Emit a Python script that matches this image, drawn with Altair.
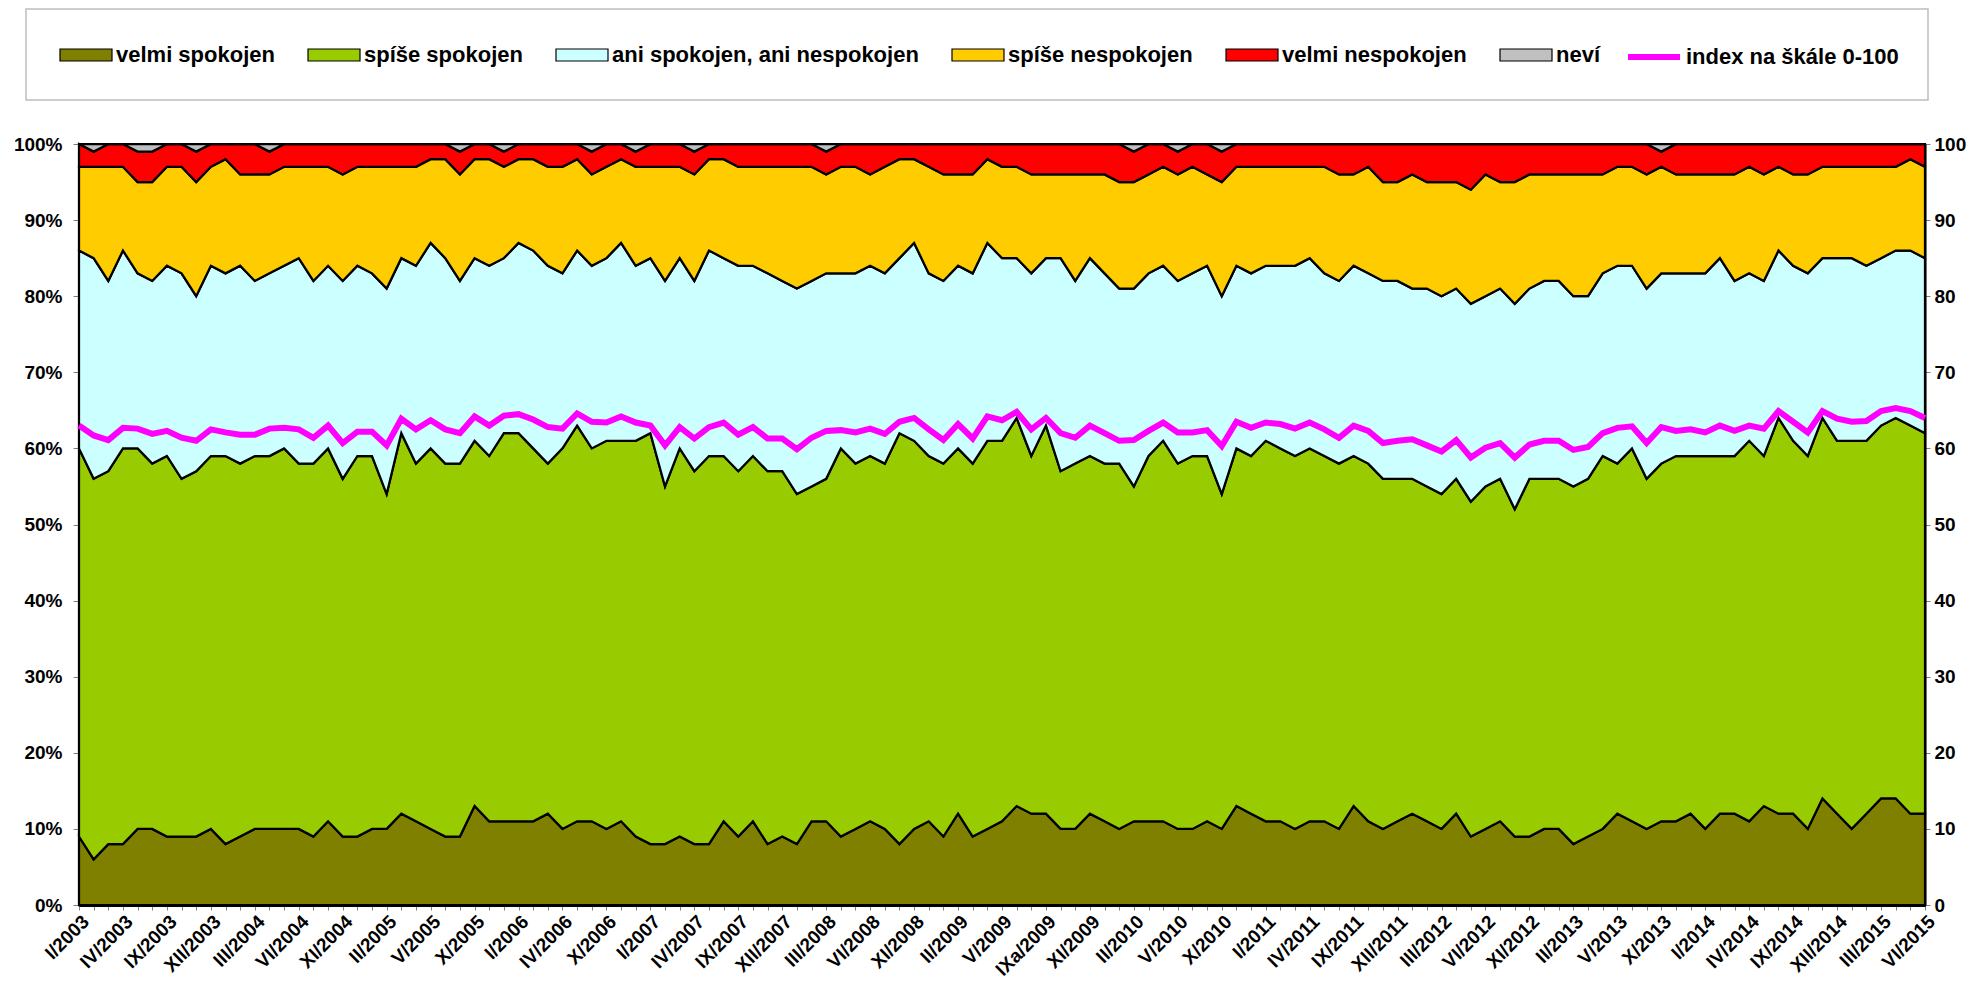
import altair as alt
import pandas as pd

MONTHS = ["I", "II", "III", "IV", "V", "VI", "IX", "X", "XI", "XII"]
periods = (
    [f"{m}/2003" for m in MONTHS] + [f"{m}/2004" for m in MONTHS] + [f"{m}/2005" for m in MONTHS]
    + ["I/2006", "II/2006", "III/2006", "IV/2006", "V/2006", "VI/2006", "X/2006", "XI/2006", "XII/2006"]
    + [f"{m}/2007" for m in MONTHS] + [f"{m}/2008" for m in MONTHS]
    + ["I/2009", "II/2009", "III/2009", "IV/2009", "V/2009", "VI/2009", "IX/2009", "IXa/2009",
       "X/2009", "Xa/2009", "XI/2009", "XII/2009"]
    + [f"{m}/2010" for m in MONTHS] + [f"{m}/2011" for m in MONTHS] + [f"{m}/2012" for m in MONTHS]
    + [f"{m}/2013" for m in MONTHS] + [f"{m}/2014" for m in MONTHS]
    + ["I/2015", "II/2015", "III/2015", "IV/2015", "V/2015", "VI/2015"]
)
labeled_periods = periods[::3]

velmi_spokojen = [
    9, 6, 8, 8, 10, 10, 9, 9, 9, 10, 8, 9, 10, 10, 10, 10, 9, 11, 9, 9, 10, 10, 12, 11, 10, 9, 9, 13, 11, 11, 11, 11,
    12, 10, 11, 11, 10, 11, 9, 8, 8, 9, 8, 8, 11, 9, 11, 8, 9, 8, 11, 11, 9, 10, 11, 10, 8, 10, 11, 9, 12, 9, 10, 11,
    13, 12, 12, 10, 10, 12, 11, 10, 11, 11, 11, 10, 10, 11, 10, 13, 12, 11, 11, 10, 11, 11, 10, 13, 11, 10, 11, 12, 11, 10, 12,
    9, 10, 11, 9, 9, 10, 10, 8, 9, 10, 12, 11, 10, 11, 11, 12, 10, 12, 12, 11, 13, 12, 12, 10, 14, 12, 10, 12, 14, 14, 12, 12,
]
spise_spokojen = [
    51, 50, 49, 52, 50, 48, 50, 47, 48, 49, 51, 49, 49, 49, 50, 48, 49, 49, 47, 50, 49, 44, 50, 47, 50, 49, 49, 48, 48, 51, 51, 49,
    46, 50, 52, 49, 51, 50, 52, 54, 47, 51, 49, 51, 48, 48, 48, 49, 48, 46, 44, 45, 51, 48, 48, 48, 54, 51, 48, 49, 48, 49, 51, 50,
    51, 47, 51, 47, 48, 47, 47, 48, 44, 48, 50, 48, 49, 48, 44, 47, 47, 50, 49, 49, 49, 48, 48, 46, 47, 46, 45, 44, 44, 44, 44,
    44, 45, 45, 43, 47, 46, 46, 47, 47, 49, 46, 49, 46, 47, 48, 47, 49, 47, 47, 50, 46, 52, 49, 49, 50, 49, 51, 49, 49, 50, 51, 50,
]
ani_ani = [
    26, 29, 25, 26, 23, 24, 25, 27, 23, 25, 24, 26, 23, 24, 24, 27, 24, 24, 26, 25, 24, 27, 23, 26, 27, 27, 24, 24, 25, 23, 25, 26,
    26, 23, 23, 24, 24, 26, 23, 23, 27, 25, 25, 27, 26, 27, 25, 26, 25, 27, 27, 27, 23, 25, 25, 25, 23, 26, 24, 24, 24, 25, 26, 24,
    21, 24, 22, 28, 24, 26, 25, 23, 26, 24, 23, 24, 24, 25, 26, 24, 24, 23, 24, 25, 25, 24, 24, 25, 25, 26, 26, 25, 26, 26, 25,
    26, 25, 25, 27, 25, 26, 26, 25, 24, 24, 26, 24, 25, 25, 24, 24, 24, 26, 23, 22, 23, 22, 23, 24, 21, 24, 24, 23, 22, 22, 23, 23,
]
spise_nespokojen = [
    11, 12, 15, 11, 12, 13, 13, 14, 15, 13, 15, 12, 14, 13, 13, 12, 15, 13, 14, 13, 14, 16, 12, 13, 11, 13, 14, 13, 14, 12, 11, 12,
    13, 14, 12, 12, 12, 11, 13, 12, 15, 12, 14, 12, 13, 13, 13, 14, 15, 16, 15, 13, 14, 14, 12, 14, 13, 11, 14, 14, 12, 13, 11, 12,
    12, 13, 11, 11, 14, 11, 13, 14, 14, 13, 13, 14, 14, 12, 15, 13, 14, 13, 13, 13, 12, 14, 14, 12, 14, 13, 13, 15, 14, 15, 14,
    15, 16, 14, 16, 15, 14, 14, 16, 16, 13, 13, 13, 15, 14, 13, 13, 13, 11, 14, 14, 14, 11, 12, 13, 12, 12, 12, 13, 12, 11, 12, 12,
]
velmi_nespokojen = [
    3, 2, 3, 3, 4, 4, 3, 3, 4, 3, 2, 4, 4, 3, 3, 3, 3, 3, 4, 3, 3, 3, 3, 3, 2, 2, 3, 2, 2, 2, 2, 2,
    3, 3, 2, 3, 3, 2, 2, 3, 3, 3, 3, 2, 2, 3, 3, 3, 3, 3, 3, 3, 3, 3, 4, 3, 2, 2, 3, 4, 4, 4, 2, 3,
    3, 4, 4, 4, 4, 4, 4, 5, 4, 4, 3, 3, 3, 4, 4, 3, 3, 3, 3, 3, 3, 3, 4, 4, 3, 5, 5, 4, 5, 5, 5,
    6, 4, 5, 5, 4, 4, 4, 4, 4, 4, 3, 3, 4, 2, 4, 4, 4, 4, 4, 3, 4, 3, 4, 4, 3, 3, 3, 3, 3, 3, 2, 3,
]
nevi = [
    0, 1, 0, 0, 1, 1, 0, 0, 1, 0, 0, 0, 0, 1, 0, 0, 0, 0, 0, 0, 0, 0, 0, 0, 0, 0, 1, 0, 0, 1, 0, 0,
    0, 0, 0, 1, 0, 0, 1, 0, 0, 0, 1, 0, 0, 0, 0, 0, 0, 0, 0, 1, 0, 0, 0, 0, 0, 0, 0, 0, 0, 0, 0, 0,
    0, 0, 0, 0, 0, 0, 0, 0, 1, 0, 0, 1, 0, 0, 1, 0, 0, 0, 0, 0, 0, 0, 0, 0, 0, 0, 0, 0, 0, 0, 0,
    0, 0, 0, 0, 0, 0, 0, 0, 0, 0, 0, 0, 0, 1, 0, 0, 0, 0, 0, 0, 0, 0, 0, 0, 0, 0, 0, 0, 0, 0, 0, 0,
]
index_0_100 = [
    63.0, 61.7, 61.1, 62.7, 62.6, 61.9, 62.3, 61.4, 61.0, 62.5, 62.1, 61.8, 61.8, 62.6, 62.7, 62.5,
    61.4, 63.0, 60.7, 62.2, 62.2, 60.4, 63.9, 62.5, 63.7, 62.5, 62.0, 64.2, 63.0, 64.3, 64.5, 63.8,
    62.8, 62.6, 64.6, 63.5, 63.4, 64.2, 63.4, 63.0, 60.4, 62.8, 61.3, 62.8, 63.4, 61.8, 62.8, 61.3,
    61.3, 59.9, 61.4, 62.3, 62.4, 62.1, 62.6, 61.9, 63.5, 64.0, 62.5, 61.1, 63.2, 61.3, 64.2, 63.7,
    64.8, 62.5, 64.0, 62.0, 61.4, 63.0, 62.0, 61.0, 61.1, 62.3, 63.4, 62.1, 62.1, 62.4, 60.3, 63.5,
    62.7, 63.4, 63.2, 62.6, 63.4, 62.5, 61.4, 63.0, 62.3, 60.7, 61.0, 61.2, 60.4, 59.6, 61.1,
    58.8, 60.1, 60.7, 58.8, 60.5, 61.0, 61.0, 59.8, 60.2, 62.0, 62.7, 62.9, 60.7, 62.8, 62.3, 62.5,
    62.1, 63.0, 62.3, 63.0, 62.6, 64.9, 63.5, 62.1, 64.9, 63.9, 63.5, 63.6, 64.9, 65.3, 64.9, 64.0,
]

series_names = ["velmi spokojen", "spíše spokojen", "ani spokojen, ani nespokojen",
                "spíše nespokojen", "velmi nespokojen", "neví"]
series_colors = ["#808000", "#99CC00", "#CCFFFF", "#FFCC00", "#FF0000", "#C0C0C0"]
INDEX_NAME = "index na škále 0-100"
INDEX_COLOR = "#FF00FF"
series_values = [velmi_spokojen, spise_spokojen, ani_ani, spise_nespokojen, velmi_nespokojen, nevi]

for vals in series_values + [index_0_100]:
    assert len(vals) == len(periods), len(vals)

rows = []
for k, (name, vals) in enumerate(zip(series_names, series_values)):
    for p, v in zip(periods, vals):
        rows.append({"period": p, "series": name, "value": v, "order": k})
df_area = pd.DataFrame(rows)
df_index = pd.DataFrame({"period": periods, "index": index_0_100, "series": INDEX_NAME})

FONT = "Liberation Sans"
W, H = 1846, 761

common_legend = dict(
    title=None,
    orient="none",
    direction="horizontal",
    labelFont=FONT,
    labelFontSize=22,
    labelFontWeight="bold",
    labelColor="black",
    labelLimit=500,
    labelOffset=3,
    symbolSize=2704,
    padding=0,
    columnPadding=30,
)

area_legend = alt.Legend(
    legendX=-20, legendY=-116, columns=6,
    symbolType="M-1,-0.23H1V0.23H-1Z",
    symbolStrokeColor="black", symbolStrokeWidth=1.2,
    **common_legend,
)
line_legend = alt.Legend(
    legendX=1546, legendY=-116, columns=1,
    symbolType="stroke", symbolStrokeWidth=6,
    **common_legend,
)

label_js = "[" + ",".join(f"'{p}'" for p in labeled_periods) + "]"
x_enc = alt.X(
    "period:O",
    sort=periods,
    scale=alt.Scale(type="point", padding=0),
    axis=alt.Axis(
        title=None,
        labelExpr=f"indexof({label_js}, datum.value) >= 0 ? datum.value : ''",
        labelAngle=-45,
        labelAlign="right",
        labelBaseline="top",
        labelOverlap=False,
        labelFont=FONT,
        labelFontSize=19,
        labelFontWeight="bold",
        labelColor="black",
        labelPadding=2,
        tickSize=5,
        tickColor="#808080",
        domainColor="black",
        domainWidth=3,
        grid=False,
    ),
)

pct_ticks = [0, 0.1, 0.2, 0.3, 0.4, 0.5, 0.6, 0.7, 0.8, 0.9, 1.0]
idx_ticks = [0, 10, 20, 30, 40, 50, 60, 70, 80, 90, 100]

frame = alt.Chart(pd.DataFrame({"f": [0]})).mark_rect(
    fill="white", stroke="#BDBDBD", strokeWidth=1.5
).encode(
    x=alt.value(-53), x2=alt.value(1849), y=alt.value(-135), y2=alt.value(-44)
)

areas = alt.Chart(df_area).mark_area(
    stroke="black", strokeWidth=2.25, interpolate="linear", opacity=1
).encode(
    x=x_enc,
    y=alt.Y(
        "value:Q",
        stack="normalize",
        scale=alt.Scale(domain=[0, 1], nice=False),
        axis=alt.Axis(
            title=None, format=".0%", values=pct_ticks, grid=False,
            labelFont=FONT, labelFontSize=19, labelFontWeight="bold", labelColor="black",
            tickColor="#808080", tickSize=6, domainColor="black", domainWidth=2, labelPadding=11,
        ),
    ),
    fill=alt.Fill("series:N", scale=alt.Scale(domain=series_names, range=series_colors),
                  legend=area_legend),
    order=alt.Order("order:Q", sort="ascending"),
)

line = alt.Chart(df_index).mark_line(strokeWidth=6, interpolate="linear").encode(
    x=x_enc,
    y=alt.Y(
        "index:Q",
        scale=alt.Scale(domain=[0, 100], nice=False),
        axis=alt.Axis(
            title=None, orient="right", values=idx_ticks, grid=False,
            labelFont=FONT, labelFontSize=19, labelFontWeight="bold", labelColor="black",
            tickColor="#808080", tickSize=5, domainColor="black", domainWidth=2, labelPadding=4,
        ),
    ),
    stroke=alt.Stroke("series:N", scale=alt.Scale(domain=[INDEX_NAME], range=[INDEX_COLOR]),
                      legend=line_legend),
)

chart = (
    alt.layer(frame, areas, line)
    .resolve_scale(y="independent")
    .properties(width=W, height=H, padding={"left": 5, "top": 0, "right": 2, "bottom": 2})
    .configure_view(stroke=None)
    .configure(background="white")
)

chart.save("out.html", embed_options={"renderer": "svg", "actions": False})
